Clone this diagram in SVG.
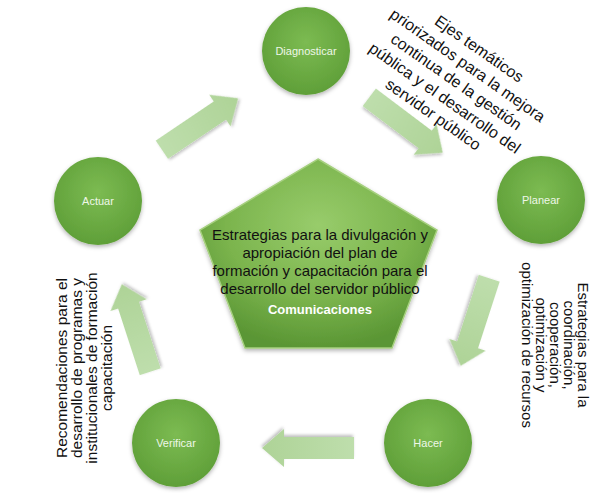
<svg xmlns="http://www.w3.org/2000/svg" width="591" height="493" viewBox="0 0 591 493">
<style>
.lbl{font-family:"Liberation Sans",Arial,sans-serif;font-size:11px;fill:#eef7e8;text-anchor:middle}
.side{font-family:"Liberation Sans",Arial,sans-serif;font-size:15px;fill:#111;text-anchor:middle}
.top{font-family:"Liberation Sans",Arial,sans-serif;font-size:16px;fill:#111;text-anchor:middle}
.ctr{font-family:"Liberation Sans",Arial,sans-serif;font-size:15px;fill:#111;text-anchor:middle}
.com{font-family:"Liberation Sans",Arial,sans-serif;font-size:13px;font-weight:bold;fill:#fff;text-anchor:middle}
.node{fill:url(#cg);filter:url(#sh)}
.arr{fill:url(#ag);filter:url(#sh2)}
</style>
<defs>
<radialGradient id="cg" cx="50%" cy="40%" r="60%">
<stop offset="0" stop-color="#7cbb52"/>
<stop offset="1" stop-color="#5f9f38"/>
</radialGradient>
<radialGradient id="pg" cx="50%" cy="35%" r="65%">
<stop offset="0" stop-color="#98cc6b"/>
<stop offset="0.6" stop-color="#7bb44d"/>
<stop offset="1" stop-color="#5a9634"/>
</radialGradient>
<linearGradient id="ag" x1="0" y1="0" x2="1" y2="0">
<stop offset="0" stop-color="#bedeac"/>
<stop offset="1" stop-color="#aed397"/>
</linearGradient>
<filter id="sh" x="-20%" y="-20%" width="140%" height="150%">
<feDropShadow dx="0" dy="2" stdDeviation="2" flood-color="#000" flood-opacity="0.3"/>
</filter>
<filter id="sh2" x="-20%" y="-40%" width="140%" height="180%">
<feDropShadow dx="1" dy="2" stdDeviation="1.5" flood-color="#000" flood-opacity="0.25"/>
</filter>
<polygon id="arrow" points="-46,-11 24,-11 24,-19 46,0 24,19 24,11 -46,11"/>
</defs>

<g id="connectors">
<use href="#arrow" class="arr" transform="translate(200,124) rotate(-34)"/>
<use href="#arrow" class="arr" transform="translate(406,125) rotate(37)"/>
<use href="#arrow" class="arr" transform="translate(475,322) rotate(108)"/>
<use href="#arrow" class="arr" transform="translate(308,448) rotate(180)"/>
<use href="#arrow" class="arr" transform="translate(136,328) rotate(-108)"/>
</g>

<g id="center">
<polygon points="318,159 437,230 392,348 245,348 200,230" fill="url(#pg)" stroke="#a6d07f" stroke-width="1.5" filter="url(#sh)"/>
<text class="ctr" x="320" y="240">Estrategias para la divulgación y</text>
<text class="ctr" x="320" y="258">apropiación del plan de</text>
<text class="ctr" x="320" y="276">formación y capacitación para el</text>
<text class="ctr" x="320" y="294">desarrollo del servidor público</text>
<text class="com" x="320" y="314">Comunicaciones</text>
</g>

<g id="diagnosticar">
<circle class="node" cx="306" cy="51" r="44"/>
<text class="lbl" x="306" y="55">Diagnosticar</text>
</g>
<g id="planear">
<circle class="node" cx="541" cy="200" r="44"/>
<text class="lbl" x="541" y="204">Planear</text>
</g>
<g id="hacer">
<circle class="node" cx="428" cy="443" r="44"/>
<text class="lbl" x="428" y="447">Hacer</text>
</g>
<g id="verificar">
<circle class="node" cx="176" cy="443" r="44"/>
<text class="lbl" x="176" y="447">Verificar</text>
</g>
<g id="actuar">
<circle class="node" cx="98" cy="201" r="44"/>
<text class="lbl" x="98" y="205">Actuar</text>
</g>

<g id="label-top" transform="translate(456,82) rotate(35)">
<text class="top" x="0" y="-35">Ejes temáticos</text>
<text class="top" x="0" y="-15">priorizados para la mejora</text>
<text class="top" x="0" y="5">continua de la gestión</text>
<text class="top" x="0" y="25">pública y el desarrollo del</text>
<text class="top" x="0" y="45">servidor público</text>
</g>

<g id="label-right" transform="translate(553,345) rotate(90)">
<text class="side" x="0" y="-25">Estrategias para la</text>
<text class="side" x="0" y="-11">coordinación,</text>
<text class="side" x="0" y="3">cooperación,</text>
<text class="side" x="0" y="17">optimización y</text>
<text class="side" x="0" y="31">optimización de recursos</text>
</g>

<g id="label-left" transform="translate(84,368) rotate(-90)" style="font-size:15.5px">
<text class="side" x="0" y="-17" style="font-size:15.5px">Recomendaciones para el</text>
<text class="side" x="0" y="-2" style="font-size:15.5px">desarrollo de programas y</text>
<text class="side" x="0" y="13" style="font-size:15.5px">institucionales de formación</text>
<text class="side" x="0" y="28" style="font-size:15.5px">capacitación</text>
</g>
</svg>
